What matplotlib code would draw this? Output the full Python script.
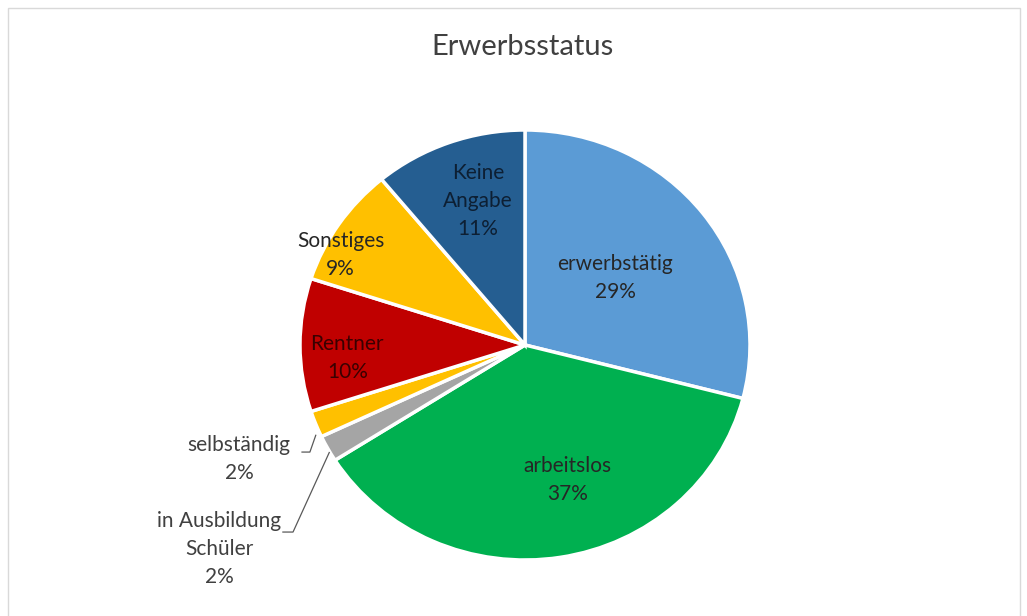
import matplotlib
matplotlib.use("Agg")
import matplotlib.pyplot as plt
from matplotlib.patches import Rectangle

# data
categories = ["erwerbstätig", "arbeitslos", "in Ausbildung\nSchüler", "selbständig",
              "Rentner", "Sonstiges", "Keine Angabe"]
display_labels = ["erwerbstätig", "arbeitslos", "in Ausbildung\nSchüler", "selbständig",
                  "Rentner", "Sonstiges", "Keine\nAngabe"]
values = [29, 37, 2, 2, 10, 9, 11]
colors = ["#5B9BD5", "#00B050", "#A5A5A5", "#FFC000", "#C00000", "#FFC000", "#255E91"]
title = "Erwerbsstatus"

plt.rcParams['font.family'] = ['Lato', 'DejaVu Sans']
W, H = 1027, 616
fig = plt.figure(figsize=(W / 100, H / 100), dpi=100)
fig.patch.set_facecolor("white")

# frame
fig.add_artist(Rectangle((8 / W, -0.01), (1020 - 8) / W, (616 - 8) / H + 0.01,
                         transform=fig.transFigure, fill=False,
                         edgecolor="#D9D9D9", linewidth=1))

RX, RY = 225.0, 215.0
cx, cy = 525.0, 616 - 345.0
ax = fig.add_axes([(cx - 1.6 * RX) / W, (cy - 1.26 * RY) / H, 3.2 * RX / W, 2.52 * RY / H])
ax.pie(values, colors=colors, startangle=90, counterclock=False, radius=1.0,
       wedgeprops=dict(edgecolor="white", linewidth=2.5))
ax.set_xlim(-1.6, 1.6)
ax.set_ylim(-1.26, 1.26)
ax.set_aspect("auto")
ax.axis("off")

label_pos = [(0.40, 0.31), (0.19, -0.63), (-1.36, -0.95), (-1.27, -0.53),
             (-0.79, -0.06), (-0.82, 0.42), (-0.21, 0.67)]
text_colors = ["#262626", "#262626", "#404040", "#404040", "#3a0000", "#262626", "#0d1f33"]
for lab, v, (x, y), c in zip(display_labels, values, label_pos, text_colors):
    ax.text(x, y, f"{lab}\n{v}%", ha="center", va="center", fontsize=15,
            color=c, linespacing=1.5, clip_on=False)

# leader lines
ax.plot([-0.991, -0.956, -0.930], [-0.498, -0.498, -0.42], color="#595959",
        linewidth=0.9, clip_on=False)
ax.plot([-1.076, -1.031, -0.87], [-0.870, -0.870, -0.50], color="#595959",
        linewidth=0.9, clip_on=False)

fig.text(523 / W, 1 - 47 / H, title, ha="center", va="center", fontsize=21, color="#404040")

fig.savefig("out.png", dpi=100)
